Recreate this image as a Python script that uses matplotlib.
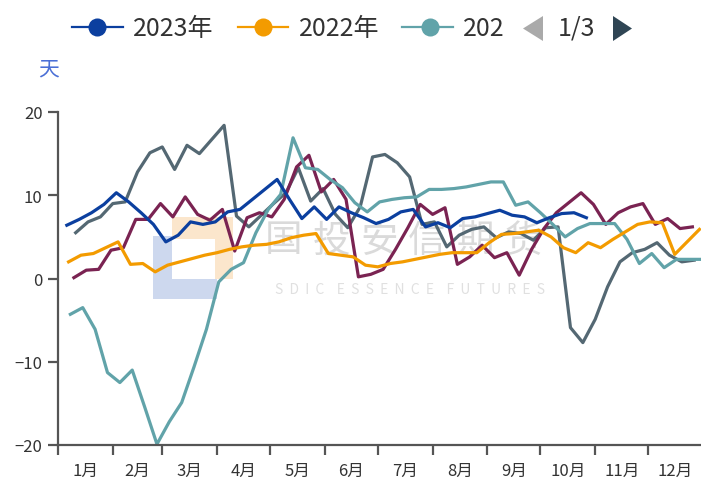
import numpy as np
import matplotlib
matplotlib.use('Agg')
import matplotlib.pyplot as plt
from matplotlib.patches import Rectangle, Polygon

plt.rcParams['font.family'] = ['Noto Sans CJK SC', 'DejaVu Sans']

# weekly data (Fridays); day of year of the first point of each year
start_day = {'2023': 5, '2022': 6, '2021': 7, '2020': 9, '2019': 10}

y2023 = [6.4, 7.1, 7.9, 8.9, 10.3, 9.2, 7.9, 6.5, 4.4, 5.2,
         6.8, 6.5, 6.8, 8.0, 8.3, 9.5, 10.7, 11.9, 9.5, 7.2,
         8.6, 7.1, 8.6, 7.9, 7.3, 6.6, 7.1, 8.0, 8.3, 6.2,
         6.7, 6.1, 7.2, 7.4, 7.8, 8.2, 7.6, 7.4, 6.7, 7.3,
         7.8, 7.9, 7.3]
y2022 = [2.0, 2.8, 3.0, 3.7, 4.4, 1.7, 1.8, 0.8, 1.6, 2.0,
         2.4, 2.8, 3.1, 3.5, 3.8, 4.0, 4.1, 4.4, 4.9, 5.2,
         5.4, 3.0, 2.8, 2.6, 1.6, 1.4, 1.8, 2.0, 2.3, 2.6,
         2.9, 3.1, 3.1, 3.1, 4.3, 5.3, 5.4, 5.6, 5.8, 5.0,
         3.7, 3.1, 4.3, 3.7, 4.7, 5.6, 6.5, 6.8, 6.7, 2.9,
         4.4, 5.9]
y2021 = [-4.3, -3.5, -6.1, -11.3, -12.5, -11.0, -15.4, -19.9, -17.2, -14.9,
         -10.6, -6.1, -0.4, 1.1, 1.9, 5.5, 8.3, 10.1, 16.9, 13.3,
         13.1, 11.9, 10.9, 9.1, 8.0, 9.2, 9.5, 9.7, 9.8, 10.7,
         10.7, 10.8, 11.0, 11.3, 11.6, 11.6, 8.8, 9.2, 7.9, 6.5,
         5.0, 6.0, 6.6, 6.6, 6.6, 4.7, 1.8, 3.0, 1.3, 2.3,
         2.3, 2.3]
y2020 = [0.1, 1.0, 1.1, 3.4, 3.7, 7.1, 7.1, 9.0, 7.4, 9.8,
         7.7, 7.0, 8.3, 3.3, 7.3, 7.9, 7.4, 9.5, 13.4, 14.8,
         10.4, 11.9, 9.5, 0.2, 0.5, 1.1, 3.5, 6.1, 8.9, 7.7,
         8.5, 1.7, 2.6, 4.0, 2.5, 3.1, 0.4, 3.5, 6.0, 7.9,
         9.1, 10.3, 8.9, 6.5, 7.9, 8.6, 9.0, 6.5, 7.2, 6.0,
         6.2]
y2019 = [5.5, 6.8, 7.4, 9.0, 9.2, 12.8, 15.1, 15.8, 13.1, 16.0,
         15.0, 16.7, 18.4, 7.5, 6.2, 7.6, 9.0, 10.3, 13.3, 9.3,
         10.8, 7.7, 6.1, 8.6, 14.6, 14.9, 13.9, 12.2, 6.5, 6.8,
         3.8, 5.2, 5.9, 6.2, 4.9, 5.6, 5.4, 4.6, 6.1, 6.2,
         -5.9, -7.7, -4.9, -1.0, 2.0, 3.1, 3.5, 4.3, 2.8, 2.0,
         2.2]

months = ['1月', '2月', '3月', '4月', '5月', '6月',
          '7月', '8月', '9月', '10月', '11月', '12月']
month_start = [0, 31, 59, 90, 120, 151, 181, 212, 243, 273, 304, 334, 365]

colors = {'2023': '#0b3f9f', '2022': '#f39b00', '2021': '#61a3a9',
          '2020': '#7a2352', '2019': '#546873'}
series = {'2019': y2019, '2020': y2020, '2021': y2021,
          '2022': y2022, '2023': y2023}

fig = plt.figure(figsize=(7.01, 4.81), dpi=100)

# background layer in pixel coords: watermark + legend
bg = fig.add_axes([0, 0, 1, 1], zorder=0)
bg.set_xlim(0, 701)
bg.set_ylim(481, 0)
bg.axis('off')

bg.add_patch(Rectangle((153, 237), 19, 63, color='#cdd8ee', lw=0))
bg.add_patch(Rectangle((153, 280), 64, 20, color='#cdd8ee', lw=0))
bg.add_patch(Rectangle((172, 218), 61, 22, color='#fbe6cc', lw=0))
bg.add_patch(Rectangle((215, 218), 18, 62, color='#fbe6cc', lw=0))
for k, ch in enumerate('国投安信期货'):
    bg.text(283 + 48 * k, 241, ch, fontsize=27, color='#dadada',
            ha='center', va='center')
bg.text(410, 290, 'S  D  I  C    E  S  S  E  N  C  E    F  U  T  U  R  E  S',
        fontsize=10, color='#e0e0e0', ha='center', va='center')

legend_items = [('2023', '2023年', 72, 123, 97, 133),
                ('2022', '2022年', 238, 288, 263, 299),
                ('2021', '202', 402, 453, 430, 463)]
for key, label, x0, x1, xm, xt in legend_items:
    bg.plot([x0, x1], [28, 28], color=colors[key], lw=1.6)
    bg.plot([xm], [28], marker='o', ms=13, color=colors[key], mew=0)
    bg.text(xt, 29, label, fontsize=18, color='#333333', va='center', ha='left')

bg.add_patch(Polygon([(523, 29.5), (543, 17), (543, 42)], color='#aaaaaa', lw=0))
bg.text(558, 29, '1/3', fontsize=18, color='#333333', va='center', ha='left')
bg.add_patch(Polygon([(613, 17), (613, 42), (632, 29.5)], color='#2f4554', lw=0))

bg.text(38, 69, '天', fontsize=15, color='#4a6fd6', va='center', ha='left')

# main chart
ax = fig.add_axes([58 / 701, 35 / 481, 645 / 701, 333 / 481], zorder=1)
ax.patch.set_alpha(0)

for key in ['2019', '2020', '2021', '2022', '2023']:
    vals = series[key]
    days = start_day[key] + 7 * np.arange(len(vals))
    ax.plot(days, vals, color=colors[key], lw=2.3)

ax.set_xlim(0, 365)
ax.set_ylim(-20, 20)
ax.set_yticks([-20, -10, 0, 10, 20])

ax.set_xticks(month_start[:-1])
ax.set_xticklabels([])
mid = [(month_start[i] + month_start[i + 1]) / 2 for i in range(12)]
ax.set_xticks(mid, minor=True)
ax.set_xticklabels(months, minor=True)

for side in ['top', 'right']:
    ax.spines[side].set_visible(False)
for side in ['left', 'bottom']:
    ax.spines[side].set_color('#555555')
    ax.spines[side].set_linewidth(1.6)

ax.tick_params(axis='y', length=7, width=1.6, color='#555555',
               labelsize=12, labelcolor='#333333', pad=4)
ax.tick_params(axis='x', which='major', length=7, width=1.6, color='#555555')
ax.tick_params(axis='x', which='minor', length=0, labelsize=12,
               labelcolor='#333333', pad=12)

fig.savefig('out.png', dpi=100)
